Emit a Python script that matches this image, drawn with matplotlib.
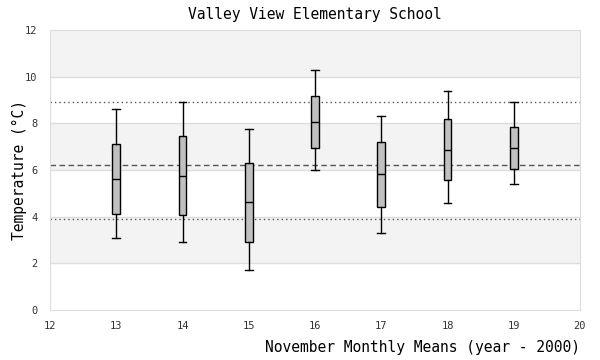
import matplotlib
matplotlib.use('Agg')
import matplotlib.pyplot as plt

# box statistics (year - 2000)
years = [13, 14, 15, 16, 17, 18, 19]
whislo = [3.07, 2.90, 1.70, 5.99, 3.29, 4.57, 5.39]
q1 = [4.10, 4.06, 2.90, 6.93, 4.40, 5.56, 6.03]
med = [5.60, 5.73, 4.61, 8.04, 5.81, 6.84, 6.93]
q3 = [7.10, 7.44, 6.29, 9.16, 7.19, 8.17, 7.83]
whishi = [8.60, 8.90, 7.77, 10.27, 8.30, 9.37, 8.90]

mean_line = 6.2
upper_line = 8.9
lower_line = 3.9

plt.rcParams['font.family'] = ['DejaVu Sans Mono']

fig = plt.figure(figsize=(6, 3.6), dpi=100)
ax = fig.add_axes([50/600, 50/360, 530/600, 280/360])

# alternating bands
for y0 in range(2, 12, 4):
    ax.axhspan(y0, y0 + 2, color='#f3f3f3', zorder=0, lw=0)
ax.axhspan(10, 12, color='#f3f3f3', zorder=0, lw=0)
for y in range(2, 12, 2):
    ax.axhline(y, color='#dddddd', lw=1, zorder=0.5)

ax.axhline(upper_line, color='#555555', lw=1, ls=(0, (1, 2.2)), zorder=1)
ax.axhline(mean_line, color='#555555', lw=1, ls=(0, (4, 2.5)), zorder=1)
ax.axhline(lower_line, color='#555555', lw=1, ls=(0, (1, 2.2)), zorder=1)

stats = []
for i in range(len(years)):
    stats.append(dict(whislo=whislo[i], q1=q1[i], med=med[i], q3=q3[i], whishi=whishi[i], fliers=[]))
ax.bxp(stats, positions=years, widths=0.12, patch_artist=True, showfliers=False,
       boxprops=dict(facecolor='#c0c0c0', edgecolor='black', lw=1),
       medianprops=dict(color='black', lw=1),
       whiskerprops=dict(color='black', lw=1),
       capprops=dict(color='black', lw=1), capwidths=0.12, manage_ticks=False)

ax.set_xlim(12, 20)
ax.set_ylim(0, 12)
ax.set_xticks(range(12, 21))
ax.set_yticks(range(0, 13, 2))
ax.tick_params(length=0, labelsize=7.5, labelcolor='#333333')
ax.tick_params(axis='y', pad=9)
ax.tick_params(axis='x', pad=8)
for s in ax.spines.values():
    s.set_color('#dddddd')

ax.set_title('Valley View Elementary School', fontsize=10.5, pad=8)
ax.set_ylabel('Temperature (°C)', fontsize=10.5)
ax.yaxis.set_label_coords(-0.043, 0.5)
ax.set_xlabel('November Monthly Means (year - 2000)', fontsize=10.5, loc='right')
ax.xaxis.set_label_coords(1.0, -0.108)

fig.savefig('out.png', dpi=100)
